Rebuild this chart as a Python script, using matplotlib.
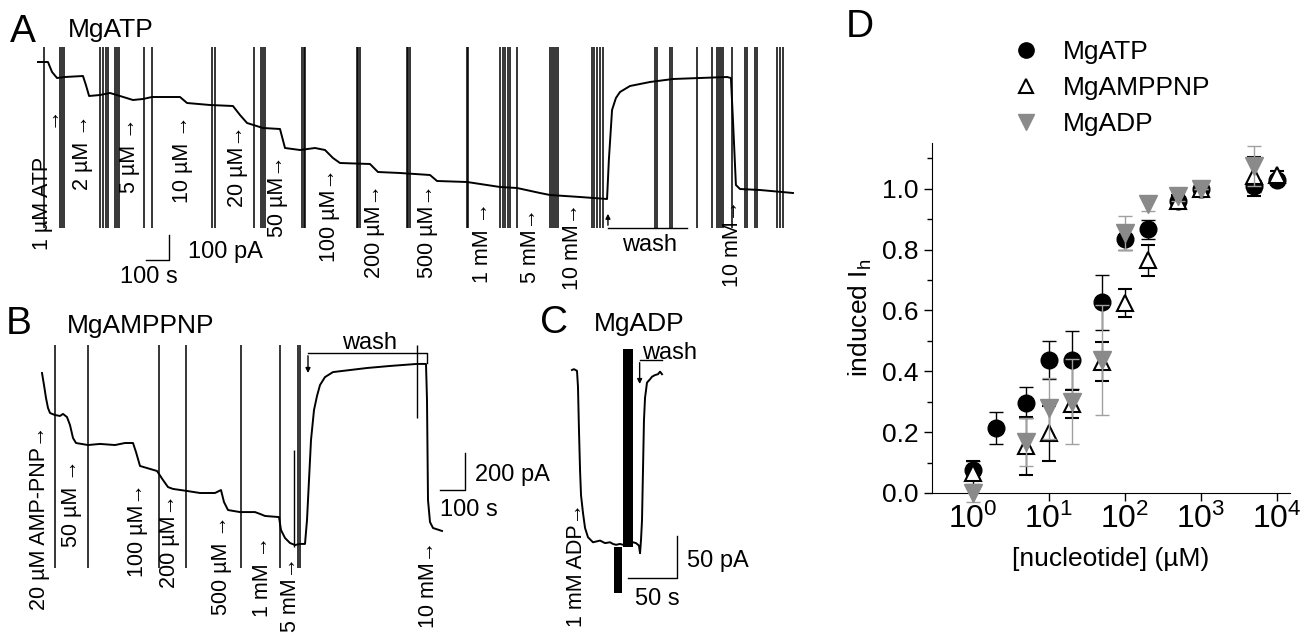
import numpy as np
import matplotlib
matplotlib.use("Agg")
import matplotlib.pyplot as plt
from matplotlib.lines import Line2D

plt.rcParams['font.family'] = ['Liberation Sans', 'DejaVu Sans']
plt.rcParams['mathtext.fontset'] = 'custom'
plt.rcParams['mathtext.rm'] = 'Liberation Sans'
plt.rcParams['mathtext.it'] = 'Liberation Sans:italic'

W, H = 1311, 636

# ---------------- panel A: MgATP trace (s, pA) ----------------
a_t = [-9, 35, 53, 75, 110, 189, 202, 216, 264, 308, 352, 409, 453, 493, 616, 647, 748, 849,
       880, 911, 981, 1056, 1078, 1144, 1210, 1254, 1289, 1320, 1452, 1487, 1584, 1716, 1747,
       1879, 2024, 2099, 2200, 2244, 2376, 2495, 2503, 2517, 2534, 2552, 2596, 2684, 2785,
       2904, 3023, 3040, 3049, 3062, 3080, 3168, 3313]
a_i = [0, 0, -40, -64, -60, -56, -92, -136, -132, -124, -136, -152, -148, -140, -140, -164,
       -172, -176, -212, -244, -264, -268, -344, -352, -344, -352, -384, -404, -408, -440,
       -444, -452, -476, -480, -500, -504, -524, -532, -540, -548, -392, -192, -144, -120,
       -96, -80, -68, -64, -60, -64, -232, -492, -508, -512, -524]
a_artifacts = [18, 88, 97, 106, 264, 277, 290, 299, 330, 339, 348, 458, 493, 757, 770, 942,
               972, 981, 990, 1153, 1160, 1166, 1395, 1401, 1408, 1615, 1621, 1628, 1879, 1883,
               2024, 2037, 2046, 2059, 2068, 2099, 2244, 2253, 2262, 2270, 2279, 2429, 2438,
               2451, 2464, 2477, 2706, 2715, 2772, 2781, 2891, 2957, 2979, 2988, 2996, 3005,
               3045, 3102, 3111, 3146, 3155, 3243, 3256, 3269]
a_labels = ["1 µM ATP", "→", "2 µM →", "5 µM →", "10 µM →", "20 µM→", "50 µM→", "100 µM→",
            "200 µM→", "500 µM→", "1 mM →", "5 mM→", "10 mM→", "10 mM→"]
a_label_t = [13, 44, 189, 396, 629, 867, 1047, 1276, 1474, 1707, 1945, 2156, 2345, 3049]
a_label_i = [-752, -260, -512, -524, -564, -580, -700, -800, -864, -864, -884, -884, -912, -900]

# ---------------- panel B: MgAMPPNP trace ----------------
b_t = [0, 8, 16, 24, 32, 52, 72, 84, 100, 112, 124, 136, 184, 232, 292, 332, 364, 376, 392,
       432, 460, 484, 504, 524, 580, 632, 692, 716, 728, 744, 792, 852, 872, 892, 948, 956,
       972, 992, 1012, 1032, 1052, 1060, 1068, 1076, 1088, 1100, 1112, 1132, 1164, 1232,
       1300, 1392, 1500, 1536, 1540, 1544, 1552, 1564, 1600]
b_i = [0, -65, -135, -189, -216, -227, -232, -221, -238, -281, -351, -378, -389, -383, -389,
       -378, -378, -427, -502, -518, -529, -578, -616, -626, -637, -648, -648, -632, -697,
       -740, -751, -751, -761, -772, -778, -848, -891, -918, -929, -923, -923, -794, -578,
       -362, -200, -124, -65, -22, 5, 16, 27, 38, 49, 49, -146, -686, -805, -837, -853]
b_artifacts = [52, 184, 468, 576, 796, 952, 1024, 1032]
b_labels = ["20 µM AMP-PNP→", "50 µM →", "100 µM→", "200 µM→", "500 µM →", "1 mM →",
            "5 mM→", "10 mM→"]
b_label_t = [-8, 120, 380, 512, 720, 880, 992, 1544]
b_label_i = [-1280, -940, -1102, -1161, -1307, -1318, -1399, -1377]

# ---------------- panel C: MgADP trace ----------------
c_t = [0, 2, 5.1, 6.1, 7.1, 8.2, 9.2, 11.2, 13.3, 16.3, 21.4, 28.6, 33.7, 38.8, 41.8, 44.9,
       49, 52, 57, 62.2, 65.3, 68.3, 69.4, 70.4, 71.4, 72.4, 73.4, 74.5, 76.5, 79.6, 81.6,
       84.7, 87.7, 89.8, 91.8]
c_i = [0, 1, -1, -20, -71, -119, -149, -170, -188, -199, -205, -203, -206, -205, -207, -208,
       -207, -208, -206, -205, -206, -209, -218, -202, -179, -120, -60, -33, -15, -11, -8,
       -6, -5, -2, -5]

# ---------------- panel D: dose response ----------------
atp_c = [1, 2, 5, 10, 20, 50, 100, 200, 500, 1000, 5000, 10000]
atp_m = [0.075, 0.214, 0.297, 0.437, 0.437, 0.626, 0.835, 0.866, 0.959, 1.0, 1.01, 1.03]
atp_e = [0.03, 0.053, 0.05, 0.063, 0.095, 0.09, 0.035, 0.03, 0.015, 0.0, 0.02, 0.012]
pnp_c = [1, 5, 10, 20, 50, 100, 200, 500, 1000, 5000, 10000]
pnp_m = [0.066, 0.154, 0.196, 0.292, 0.432, 0.624, 0.764, 0.96, 1.0, 1.04, 1.045]
pnp_e = [0.04, 0.095, 0.09, 0.045, 0.065, 0.047, 0.05, 0.02, 0.0, 0.065, 0.012]
adp_c = [1, 5, 10, 20, 50, 100, 200, 500, 1000, 5000]
adp_m = [0.0, 0.168, 0.278, 0.30, 0.437, 0.855, 0.948, 0.975, 1.0, 1.075]
adp_e = [0.03, 0.08, 0.1, 0.14, 0.18, 0.055, 0.02, 0.015, 0.0, 0.065]

fig = plt.figure(figsize=(W / 100, H / 100), dpi=100)


def trace_axes(box, px0, s_per_px, py0, pa_per_px):
    x0, y0, x1, y1 = box
    ax = fig.add_axes([x0 / W, 1 - y1 / H, (x1 - x0) / W, (y1 - y0) / H])
    ax.set_xlim((x0 - px0) * s_per_px, (x1 - px0) * s_per_px)
    ax.set_ylim(-(y1 - py0) * pa_per_px, -(y0 - py0) * pa_per_px)
    ax.axis('off')
    ax.patch.set_visible(False)
    return ax


def ftext(x, y, s, **kw):
    fig.text(x / W, 1 - y / H, s, **kw)


lw = 1.4
# A
axA = trace_axes((0, 0, 810, 300), 40, 4.4, 62, 4)
axA.plot(a_t, a_i, color='k', lw=lw)
axA.vlines(a_artifacts, -664, 60, color='k', lw=1.1)
for s, t, i in zip(a_labels, a_label_t, a_label_i):
    axA.text(t, i, s, rotation=90, ha='center', va='bottom', fontsize=15.5)
axA.plot([2499, 2847], [-664, -664], color='k', lw=1)
axA.annotate('', xy=(2499, -596), xytext=(2499, -664),
             arrowprops=dict(arrowstyle='-|>', lw=1, color='k', mutation_scale=7))
axA.text(2684, -732, 'wash', ha='center', va='center', fontsize=17)
axA.plot([468, 568, 568], [-792, -792, -692], color='k', lw=1)
ftext(188, 252, '100 pA', ha='left', va='center', fontsize=17)
ftext(120, 277, '100 s', ha='left', va='center', fontsize=17)

# B
axB = trace_axes((0, 300, 560, 636), 42, 4, 373, 5.4)
axB.plot(b_t, b_i, color='k', lw=lw)
axB.vlines(b_artifacts, -1053, 151, color='k', lw=1.1)
axB.vlines([1008], -940, -416, color='k', lw=1.0)
axB.vlines([1500], -243, 151, color='k', lw=1.0)
for s, t, i in zip(b_labels, b_label_t, b_label_i):
    axB.text(t, i, s, rotation=90, ha='center', va='bottom', fontsize=15.5)
axB.plot([1540, 1540, 1064], [54, 108, 108], color='k', lw=1)
axB.annotate('', xy=(1064, -15), xytext=(1064, 108),
             arrowprops=dict(arrowstyle='-|>', lw=1, color='k', mutation_scale=7))
axB.text(1312, 162, 'wash', ha='center', va='center', fontsize=17)
axB.plot([1592, 1692, 1692], [-632, -632, -432], color='k', lw=1)
ftext(475, 475, '200 pA', ha='left', va='center', fontsize=17)
ftext(440, 510, '100 s', ha='left', va='center', fontsize=17)

# C
axC = trace_axes((540, 300, 800, 636), 572, 1.02, 370, 1.19)
axC.plot(c_t, c_i, color='k', lw=lw)
axC.bar([57], [236], bottom=[-211], width=10, color='k')
axC.bar([47], [54], bottom=[-265], width=8, color='k')
axC.plot([92, 69], [12, 12], color='k', lw=1)
axC.annotate('', xy=(69, -20), xytext=(69, 12),
             arrowprops=dict(arrowstyle='-|>', lw=1, color='k', mutation_scale=7))
axC.text(71, 20, 'wash', ha='left', va='center', fontsize=17)
axC.text(5, -158, '1 mM ADP→', rotation=90, ha='center', va='top', fontsize=15.5)
axC.plot([57, 107, 107], [-248, -248, -198], color='k', lw=1)
ftext(687, 561, '50 pA', ha='left', va='center', fontsize=17)
ftext(635, 599, '50 s', ha='left', va='center', fontsize=17)

# panel letters and titles
ftext(10, 42, 'A', fontsize=28, va='baseline')
ftext(68, 37, 'MgATP', fontsize=19, va='baseline')
ftext(6, 334, 'B', fontsize=28, va='baseline')
ftext(67, 333, 'MgAMPPNP', fontsize=19, va='baseline')
ftext(540, 333, 'C', fontsize=28, va='baseline')
ftext(594, 331, 'MgADP', fontsize=19, va='baseline')
ftext(846, 37, 'D', fontsize=28, va='baseline')

# D
axD = fig.add_axes([932 / W, 1 - 493 / H, (1290 - 932) / W, 350 / H])
gray = '#8a8a8a'
axD.errorbar(atp_c, atp_m, yerr=atp_e, fmt='o', color='k', ms=12, capsize=5,
             elinewidth=1, capthick=1, clip_on=False, zorder=3)
axD.errorbar(pnp_c, pnp_m, yerr=pnp_e, fmt='^', mfc='white', mec='k', mew=1.5, ecolor='k',
             ms=12, capsize=5, elinewidth=1, capthick=1, clip_on=False, zorder=4)
axD.errorbar(adp_c, adp_m, yerr=adp_e, fmt='v', color=gray, ecolor='#a0a0a0', ms=13,
             capsize=5, elinewidth=1, capthick=1, clip_on=False, zorder=5)
axD.set_xscale('log')
axD.set_xlim(0.29, 14800)
axD.set_ylim(0, 1.15)
axD.set_yticks([0, 0.2, 0.4, 0.6, 0.8, 1.0])
axD.set_yticklabels(['0.0', '0.2', '0.4', '0.6', '0.8', '1.0'])
axD.set_yticks(np.arange(0.1, 1.15, 0.2), minor=True)
axD.set_xticks([1, 10, 100, 1000, 10000])
axD.set_xticklabels(['10$^0$', '10$^1$', '10$^2$', '10$^3$', '10$^4$'])
axD.spines['top'].set_visible(False)
axD.spines['right'].set_visible(False)
axD.tick_params(axis='y', labelsize=19, width=1, length=6)
axD.tick_params(axis='x', labelsize=23, width=1, length=6, pad=2)
axD.tick_params(which='minor', length=3.5, width=1)
axD.set_xlabel('[nucleotide] (µM)', fontsize=19, labelpad=8)
axD.set_ylabel('induced I$_\\mathrm{h}$', fontsize=19, labelpad=6)

handles = [Line2D([], [], ls='none', marker='o', color='k', ms=11),
           Line2D([], [], ls='none', marker='^', mfc='white', mec='k', mew=1.5, ms=10),
           Line2D([], [], ls='none', marker='v', color=gray, ms=12)]
fig.legend(handles, ['MgATP', 'MgAMPPNP', 'MgADP'], loc='upper left',
           bbox_to_anchor=(997 / W, 1 - 27 / H), frameon=False, fontsize=19,
           labelspacing=0.45, handletextpad=0.8, handlelength=1.2, borderpad=0)

fig.savefig('out.png', dpi=100)
